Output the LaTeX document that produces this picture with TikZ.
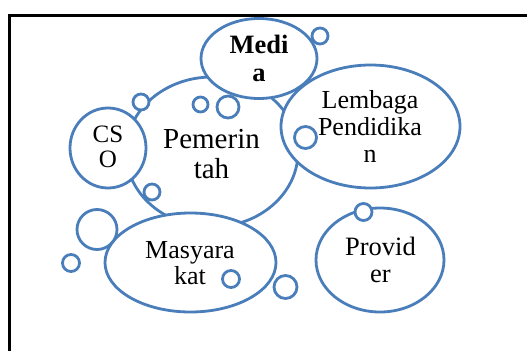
\documentclass[tikz,border=0pt]{standalone}
\usepackage{fontspec}
\setmainfont{Liberation Serif}
\usetikzlibrary{shapes.geometric}
\definecolor{bubble}{RGB}{74,126,187}
\begin{document}
\begin{tikzpicture}[x=1pt,y=-1pt,
  bubble/.style={ellipse, draw=bubble, line width=2.8pt, fill=white, inner sep=0pt, outer sep=0pt},
  ring/.style={circle, draw=bubble, line width=2.8pt, fill=white, inner sep=0pt, outer sep=0pt, minimum size=#1},
  lbl/.style={align=center, anchor=base, inner sep=0pt}]
\useasboundingbox (0,0) rectangle (527,351);
% frame
\draw[line width=3pt] (9,351) -- (9,15) -- (527,15);
% main bubbles
\node[bubble, minimum width=172pt, minimum height=150pt] (pem) at (212,152) {};
\node[bubble, minimum width=76pt, minimum height=80pt] (cso) at (108,148) {};
\node[bubble, minimum width=116pt, minimum height=80pt] (media) at (259,58.5) {};
\node[bubble, minimum width=179pt, minimum height=123pt] (lembaga) at (370.5,126.5) {};
\node[ring=40pt] (r1) at (97,229.5) {};
\node[bubble, minimum width=171pt, minimum height=99pt] (masy) at (190.5,262.5) {};
\node[bubble, minimum width=128pt, minimum height=104pt] (prov) at (380,260) {};
% small rings
\node[ring=16pt] (r2) at (141,102) {};
\node[ring=15pt] (r3) at (200.5,104.5) {};
\node[ring=22pt] (r4) at (228,107) {};
\node[ring=16pt] (r5) at (320,36) {};
\node[ring=22pt] (r6) at (305.5,137.5) {};
\node[ring=16pt] (r7) at (152,192) {};
\node[ring=17pt] (r8) at (71,263) {};
\node[ring=17pt] (r9) at (231,279) {};
\node[ring=23pt] (r10) at (285.5,287) {};
\node[ring=17pt] (r11) at (363.5,212) {};
% labels (base anchor sits on the last line)
\node[lbl, font=\fontsize{29}{30}\selectfont] (pemtext) at (211.5,178) {Pemerin\\tah};
\node[lbl, font=\fontsize{25}{25}\selectfont] (csotext) at (108,167) {CS\\O};
\node[lbl, font=\fontsize{26.5}{28}\selectfont\bfseries] (mediatext) at (259,81) {Medi\\a};
\node[lbl, font=\fontsize{26}{27}\selectfont] (lembagatext) at (370,162) {Lembaga\\Pendidika\\n};
\node[lbl, font=\fontsize{26}{26}\selectfont] (masytext) at (190,284) {Masyara\\kat};
\node[lbl, font=\fontsize{26.5}{27}\selectfont] (provtext) at (380.5,282) {Provid\\er};
\end{tikzpicture}
\end{document}
